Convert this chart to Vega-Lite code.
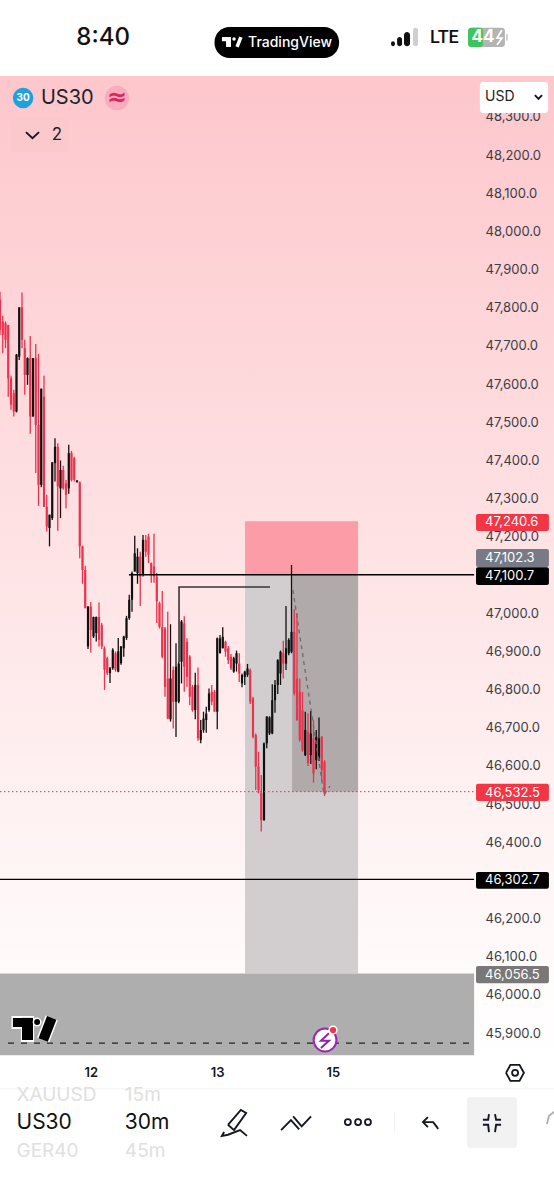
{"$schema":"https://vega.github.io/schema/vega-lite/v6.json","width":554,"height":1200,"padding":0,"autosize":{"type":"none"},"background":"#ffffff","view":{"stroke":null,"fill":{"gradient":"linear","x1":0,"y1":0,"x2":0,"y2":1,"stops":[{"offset":0,"color":"#ffffff"},{"offset":0.0633,"color":"#ffffff"},{"offset":0.0634,"color":"#fdc7cc"},{"offset":0.42,"color":"#fee0e2"},{"offset":0.81,"color":"#fffbfb"},{"offset":0.88,"color":"#ffffff"},{"offset":1,"color":"#ffffff"}]}},
"datasets":{"candles":[
{"bar":0,"high":47842,"low":47729,"open":47821,"close":47742,"dir":"down"},{"bar":1,"high":47779,"low":47681,"open":47764,"close":47729,"dir":"down"},{"bar":2,"high":47764,"low":47694,"open":47759,"close":47716,"dir":"down"},{"bar":3,"high":47755,"low":47567,"open":47755,"close":47615,"dir":"down"},{"bar":4,"high":47622,"low":47533,"open":47615,"close":47546,"dir":"down"},{"bar":5,"high":47585,"low":47515,"open":47576,"close":47528,"dir":"down"},{"bar":6,"high":47679,"low":47526,"open":47528,"close":47677,"dir":"up"},{"bar":7,"high":47801,"low":47663,"open":47672,"close":47801,"dir":"up"},{"bar":8,"high":47840,"low":47694,"open":47801,"close":47716,"dir":"down"},{"bar":9,"high":47716,"low":47572,"open":47694,"close":47624,"dir":"down"},{"bar":10,"high":47670,"low":47598,"open":47624,"close":47668,"dir":"up"},{"bar":11,"high":47726,"low":47470,"open":47668,"close":47515,"dir":"down"},{"bar":12,"high":47668,"low":47515,"open":47515,"close":47668,"dir":"up"},{"bar":13,"high":47705,"low":47367,"open":47668,"close":47493,"dir":"down"},{"bar":14,"high":47679,"low":47281,"open":47493,"close":47336,"dir":"down"},{"bar":15,"high":47588,"low":47330,"open":47336,"close":47588,"dir":"up"},{"bar":16,"high":47622,"low":47278,"open":47567,"close":47279,"dir":"down"},{"bar":17,"high":47310,"low":47214,"open":47279,"close":47227,"dir":"down"},{"bar":18,"high":47258,"low":47175,"open":47223,"close":47258,"dir":"up"},{"bar":19,"high":47395,"low":47244,"open":47249,"close":47395,"dir":"up"},
{"bar":20,"high":47458,"low":47345,"open":47393,"close":47436,"dir":"up"},{"bar":21,"high":47445,"low":47216,"open":47436,"close":47332,"dir":"down"},{"bar":22,"high":47400,"low":47249,"open":47327,"close":47375,"dir":"up"},{"bar":23,"high":47386,"low":47323,"open":47375,"close":47327,"dir":"down"},{"bar":24,"high":47349,"low":47275,"open":47340,"close":47310,"dir":"down"},{"bar":25,"high":47441,"low":47313,"open":47327,"close":47419,"dir":"up"},{"bar":26,"high":47425,"low":47345,"open":47419,"close":47349,"dir":"down"},{"bar":27,"high":47410,"low":47345,"open":47406,"close":47349,"dir":"down"},{"bar":28,"high":47349,"low":47342,"open":47343,"close":47347,"dir":"up"},{"bar":29,"high":47345,"low":47144,"open":47343,"close":47175,"dir":"down"},{"bar":30,"high":47177,"low":47077,"open":47175,"close":47113,"dir":"down"},{"bar":31,"high":47124,"low":47013,"open":47113,"close":47013,"dir":"down"},{"bar":32,"high":47019,"low":46906,"open":46913,"close":47017,"dir":"up"},{"bar":33,"high":47029,"low":46897,"open":47017,"close":46956,"dir":"down"},{"bar":34,"high":46991,"low":46935,"open":46939,"close":46990,"dir":"up"},{"bar":35,"high":46991,"low":46926,"open":46948,"close":46990,"dir":"up"},{"bar":36,"high":47028,"low":46913,"open":46990,"close":46930,"dir":"down"},{"bar":37,"high":46974,"low":46906,"open":46969,"close":46913,"dir":"down"},{"bar":38,"high":46913,"low":46799,"open":46908,"close":46852,"dir":"down"},{"bar":39,"high":46886,"low":46838,"open":46882,"close":46843,"dir":"down"},
{"bar":40,"high":46859,"low":46817,"open":46843,"close":46856,"dir":"up"},{"bar":41,"high":46908,"low":46852,"open":46856,"close":46904,"dir":"up"},{"bar":42,"high":46900,"low":46847,"open":46895,"close":46852,"dir":"down"},{"bar":43,"high":46935,"low":46845,"open":46847,"close":46900,"dir":"up"},{"bar":44,"high":46914,"low":46865,"open":46869,"close":46913,"dir":"up"},{"bar":45,"high":46941,"low":46886,"open":46908,"close":46939,"dir":"up"},{"bar":46,"high":46993,"low":46930,"open":46935,"close":46987,"dir":"up"},{"bar":47,"high":47048,"low":46983,"open":46987,"close":47035,"dir":"up"},{"bar":48,"high":47109,"low":47004,"open":47035,"close":47105,"dir":"up"},{"bar":49,"high":47203,"low":47109,"open":47109,"close":47157,"dir":"up"},{"bar":50,"high":47170,"low":47077,"open":47105,"close":47148,"dir":"up"},{"bar":51,"high":47161,"low":47019,"open":47148,"close":47096,"dir":"down"},{"bar":52,"high":47205,"low":47096,"open":47100,"close":47192,"dir":"up"},{"bar":53,"high":47205,"low":47148,"open":47192,"close":47161,"dir":"down"},{"bar":54,"high":47208,"low":47131,"open":47201,"close":47153,"dir":"down"},{"bar":55,"high":47133,"low":47080,"open":47131,"close":47100,"dir":"down"},{"bar":56,"high":47208,"low":47080,"open":47122,"close":47096,"dir":"down"},{"bar":57,"high":47105,"low":46974,"open":47096,"close":47031,"dir":"down"},{"bar":58,"high":47030,"low":46960,"open":47026,"close":46964,"dir":"down"},{"bar":59,"high":47058,"low":46882,"open":46964,"close":46886,"dir":"down"},
{"bar":60,"high":46964,"low":46781,"open":46960,"close":46807,"dir":"down"},{"bar":61,"high":47004,"low":46722,"open":46829,"close":46724,"dir":"down"},{"bar":62,"high":46971,"low":46716,"open":46722,"close":46829,"dir":"up"},{"bar":63,"high":46860,"low":46698,"open":46851,"close":46768,"dir":"down"},{"bar":64,"high":46921,"low":46676,"open":46768,"close":46860,"dir":"up"},{"bar":65,"high":46873,"low":46764,"open":46768,"close":46868,"dir":"up"},{"bar":66,"high":46982,"low":46816,"open":46873,"close":46978,"dir":"up"},{"bar":67,"high":46992,"low":46794,"open":46973,"close":46860,"dir":"down"},{"bar":68,"high":46934,"low":46807,"open":46925,"close":46833,"dir":"down"},{"bar":69,"high":46890,"low":46759,"open":46886,"close":46781,"dir":"down"},{"bar":70,"high":46812,"low":46742,"open":46807,"close":46746,"dir":"down"},{"bar":71,"high":46844,"low":46722,"open":46746,"close":46812,"dir":"up"},{"bar":72,"high":46858,"low":46666,"open":46812,"close":46672,"dir":"down"},{"bar":73,"high":46720,"low":46659,"open":46668,"close":46694,"dir":"up"},{"bar":74,"high":46742,"low":46687,"open":46694,"close":46724,"dir":"up"},{"bar":75,"high":46755,"low":46687,"open":46720,"close":46737,"dir":"up"},{"bar":76,"high":46803,"low":46742,"open":46746,"close":46790,"dir":"up"},{"bar":77,"high":46812,"low":46759,"open":46794,"close":46768,"dir":"down"},{"bar":78,"high":46799,"low":46742,"open":46794,"close":46742,"dir":"down"},{"bar":79,"high":46936,"low":46696,"open":46742,"close":46934,"dir":"up"},
{"bar":80,"high":46943,"low":46895,"open":46895,"close":46934,"dir":"up"},{"bar":81,"high":46963,"low":46908,"open":46908,"close":46938,"dir":"up"},{"bar":82,"high":46928,"low":46886,"open":46925,"close":46899,"dir":"down"},{"bar":83,"high":46914,"low":46867,"open":46908,"close":46877,"dir":"down"},{"bar":84,"high":46893,"low":46851,"open":46886,"close":46855,"dir":"down"},{"bar":85,"high":46886,"low":46844,"open":46847,"close":46882,"dir":"up"},{"bar":86,"high":46902,"low":46847,"open":46868,"close":46895,"dir":"up"},{"bar":87,"high":46895,"low":46820,"open":46868,"close":46842,"dir":"down"},{"bar":88,"high":46842,"low":46806,"open":46816,"close":46838,"dir":"up"},{"bar":89,"high":46849,"low":46812,"open":46833,"close":46847,"dir":"up"},{"bar":90,"high":46867,"low":46833,"open":46838,"close":46855,"dir":"up"},{"bar":91,"high":46855,"low":46762,"open":46851,"close":46768,"dir":"down"},{"bar":92,"high":46781,"low":46672,"open":46777,"close":46676,"dir":"down"},{"bar":93,"high":46685,"low":46537,"open":46681,"close":46598,"dir":"down"},{"bar":94,"high":46637,"low":46528,"open":46598,"close":46537,"dir":"down"},{"bar":95,"high":46576,"low":46428,"open":46528,"close":46458,"dir":"down"},{"bar":96,"high":46661,"low":46456,"open":46458,"close":46659,"dir":"up"},{"bar":97,"high":46730,"low":46646,"open":46659,"close":46729,"dir":"up"},{"bar":98,"high":46730,"low":46681,"open":46685,"close":46727,"dir":"up"},{"bar":99,"high":46814,"low":46683,"open":46685,"close":46772,"dir":"up"},
{"bar":100,"high":46825,"low":46739,"open":46772,"close":46812,"dir":"up"},{"bar":101,"high":46879,"low":46788,"open":46812,"close":46877,"dir":"up"},{"bar":102,"high":46902,"low":46812,"open":46842,"close":46899,"dir":"up"},{"bar":103,"high":46928,"low":46829,"open":46895,"close":46868,"dir":"down"},{"bar":104,"high":47019,"low":46851,"open":46868,"close":46908,"dir":"up"},{"bar":105,"high":46934,"low":46890,"open":46895,"close":46930,"dir":"up"},{"bar":106,"high":47126,"low":46895,"open":46899,"close":46951,"dir":"up"},{"bar":107,"high":47010,"low":46785,"open":46951,"close":46790,"dir":"down"},{"bar":108,"high":47000,"low":46718,"open":46829,"close":46720,"dir":"down"},{"bar":109,"high":46829,"low":46663,"open":46794,"close":46668,"dir":"down"},{"bar":110,"high":46794,"low":46637,"open":46746,"close":46641,"dir":"down"},{"bar":111,"high":46742,"low":46626,"open":46628,"close":46694,"dir":"up"},{"bar":112,"high":46737,"low":46600,"open":46689,"close":46607,"dir":"down"},{"bar":113,"high":46744,"low":46605,"open":46628,"close":46685,"dir":"up"},{"bar":114,"high":46720,"low":46556,"open":46672,"close":46580,"dir":"down"},{"bar":115,"high":46694,"low":46591,"open":46615,"close":46676,"dir":"up"},{"bar":116,"high":46727,"low":46613,"open":46620,"close":46672,"dir":"up"},{"bar":117,"high":46678,"low":46559,"open":46676,"close":46589,"dir":"down"},{"bar":118,"high":46615,"low":46521,"open":46611,"close":46528,"dir":"down"}
],
"icons":[
{"id":"chev","n":0,"bar":9.45,"price":48260},{"id":"chev","n":1,"bar":11.8,"price":48244},{"id":"chev","n":2,"bar":14.2,"price":48260},
{"id":"usd","n":0,"bar":194.5,"price":48357},{"id":"usd","n":1,"bar":195.8,"price":48347},{"id":"usd","n":2,"bar":197.1,"price":48357},
{"id":"hex","n":0,"bar":184,"price":45796},{"id":"hex","n":1,"bar":185.6,"price":45817},{"id":"hex","n":2,"bar":188.9,"price":45817},{"id":"hex","n":3,"bar":190.5,"price":45796},{"id":"hex","n":4,"bar":188.9,"price":45775},{"id":"hex","n":5,"bar":185.6,"price":45775},{"id":"hex","n":6,"bar":184,"price":45796},
{"id":"pen","n":0,"bar":82.9,"price":45660},{"id":"pen","n":1,"bar":87.6,"price":45699},{"id":"pen","n":2,"bar":89.5,"price":45691},{"id":"pen","n":3,"bar":85.1,"price":45646},{"id":"pen","n":4,"bar":82.9,"price":45660},
{"id":"sw","n":0,"bar":81.5,"price":45641},{"id":"sw","n":1,"bar":80.7,"price":45631},{"id":"sw","n":2,"bar":82.9,"price":45634},{"id":"sw","n":3,"bar":87.3,"price":45646},{"id":"sw","n":4,"bar":89.8,"price":45631},
{"id":"za","n":0,"bar":102.2,"price":45646},{"id":"za","n":1,"bar":105.8,"price":45672},{"id":"za","n":2,"bar":108.8,"price":45648},
{"id":"zb","n":0,"bar":106.6,"price":45682},{"id":"zb","n":1,"bar":109.7,"price":45656},{"id":"zb","n":2,"bar":113.1,"price":45682},
{"id":"ua","n":0,"bar":155.6,"price":45680},{"id":"ua","n":1,"bar":153.8,"price":45667},{"id":"ua","n":2,"bar":155.6,"price":45654},
{"id":"ub","n":0,"bar":153.8,"price":45667},{"id":"ub","n":1,"bar":157.5,"price":45667},{"id":"ub","n":2,"bar":158.9,"price":45654},{"id":"ub","n":3,"bar":159.3,"price":45649},
{"id":"c1","n":0,"bar":175.6,"price":45673},{"id":"c1","n":1,"bar":177.5,"price":45673},{"id":"c1","n":2,"bar":177.8,"price":45688},
{"id":"c2","n":0,"bar":182.2,"price":45673},{"id":"c2","n":1,"bar":180.4,"price":45673},{"id":"c2","n":2,"bar":180,"price":45688},
{"id":"c3","n":0,"bar":175.6,"price":45660},{"id":"c3","n":1,"bar":177.5,"price":45660},{"id":"c3","n":2,"bar":177.8,"price":45641},
{"id":"c4","n":0,"bar":182.2,"price":45660},{"id":"c4","n":1,"bar":180.4,"price":45660},{"id":"c4","n":2,"bar":180,"price":45641}
]},
"encoding":{
"x":{"field":"bar","type":"quantitative","scale":{"domain":[0,201.45],"nice":false,"zero":false},"axis":{"title":null,"orient":"bottom","values":[33,79,121],"labelExpr":"datum.value==33?'12':datum.value==79?'13':'15'","domain":false,"ticks":false,"grid":false,"offset":-128,"labelPadding":0,"labelFont":"Inter","labelFontSize":13,"labelFontWeight":600,"labelColor":"#131722","labelBaseline":"middle","labelFlush":false,"labelOverlap":false}},
"y":{"field":"price","type":"quantitative","scale":{"domain":[45463,48606],"nice":false,"zero":false},"axis":{"title":null,"orient":"right","values":[45900,46000,46100,46200,46400,46500,46600,46700,46800,46900,47000,47200,47300,47400,47500,47600,47700,47800,47900,48000,48100,48200,48300],"format":",.1f","domain":false,"ticks":false,"grid":false,"offset":-69,"labelPadding":0,"labelFont":"Inter","labelFontSize":13,"labelColor":"#3a3d46","labelAlign":"left","labelOverlap":false,"labelFlush":false}}
},
"resolve":{"scale":{"color":"independent"}},
"layer":[
{"data":{"values":[{"part":"target","bar":89.1,"bar2":130.2,"price":47240.6,"price2":47100.7},{"part":"range","bar":89.1,"bar2":130.2,"price":47100.7,"price2":46056.5},{"part":"filled","bar":106.2,"bar2":130.2,"price":47100.7,"price2":46532.5},{"part":"floor","bar":0,"bar2":172.4,"price":46056.5,"price2":45842}]},
"mark":{"type":"rect"},"encoding":{"x2":{"field":"bar2"},"y2":{"field":"price2"},"color":{"field":"part","type":"nominal","legend":null,"scale":{"domain":["target","range","filled","floor"],"range":["#fb9ca7","#d2cecf","#b1aaab","#aeaeae"]}}}},
{"data":{"name":"candles"},"mark":{"type":"rule","strokeWidth":1.3},"encoding":{"y":{"field":"high","type":"quantitative","scale":{"domain":[45463,48606],"nice":false,"zero":false},"axis":{"title":null,"orient":"right","values":[45900,46000,46100,46200,46400,46500,46600,46700,46800,46900,47000,47200,47300,47400,47500,47600,47700,47800,47900,48000,48100,48200,48300],"format":",.1f","domain":false,"ticks":false,"grid":false,"offset":-69,"labelPadding":0,"labelFont":"Inter","labelFontSize":13,"labelColor":"#3a3d46","labelAlign":"left","labelOverlap":false,"labelFlush":false}},"y2":{"field":"low"},"color":{"field":"dir","type":"nominal","legend":null,"scale":{"domain":["up","down"],"range":["#111111","#e8344e"]}}}},
{"data":{"name":"candles"},"mark":{"type":"rule","strokeWidth":2.2},"encoding":{"y":{"field":"open","type":"quantitative","scale":{"domain":[45463,48606],"nice":false,"zero":false},"axis":{"title":null,"orient":"right","values":[45900,46000,46100,46200,46400,46500,46600,46700,46800,46900,47000,47200,47300,47400,47500,47600,47700,47800,47900,48000,48100,48200,48300],"format":",.1f","domain":false,"ticks":false,"grid":false,"offset":-69,"labelPadding":0,"labelFont":"Inter","labelFontSize":13,"labelColor":"#3a3d46","labelAlign":"left","labelOverlap":false,"labelFlush":false}},"y2":{"field":"close"},"color":{"field":"dir","type":"nominal","legend":null,"scale":{"domain":["up","down"],"range":["#111111","#e8344e"]}}}},
{"data":{"values":[{"bar":46.9,"bar2":172.4,"price":47100.7},{"bar":0,"bar2":172.4,"price":46302.7}]},"mark":{"type":"rule","color":"#000000","strokeWidth":1.4},"encoding":{"x2":{"field":"bar2"}}},
{"data":{"values":[{"bar":0,"bar2":172.4,"price":46532.5}]},"mark":{"type":"rule","color":"#e8344e","strokeWidth":1,"strokeDash":[1.5,2.5]},"encoding":{"x2":{"field":"bar2"}}},
{"data":{"values":[{"bar":2.9,"bar2":170.9,"price":45874}]},"mark":{"type":"rule","color":"#222222","strokeWidth":1.3,"strokeDash":[6,7]},"encoding":{"x2":{"field":"bar2"}}},
{"data":{"values":[{"n":0,"bar":98.2,"price":47068.5},{"n":1,"bar":65.1,"price":47068.5},{"n":2,"bar":65.1,"price":46872}]},"mark":{"type":"line","color":"#3a3436","strokeWidth":1.6},"encoding":{"order":{"field":"n"}}},
{"data":{"values":[{"n":0,"bar":106.5,"price":47061},{"n":1,"bar":117.8,"price":46524},{"n":2,"bar":120,"price":46547}]},"mark":{"type":"line","color":"#6f6a70","strokeWidth":1.3,"strokeDash":[4,4]},"encoding":{"order":{"field":"n"}}},
{"data":{"values":[{"part":"red","bar":173.1,"bar2":199.6,"price":47260,"price2":47215},{"part":"slate","bar":173.1,"bar2":199.6,"price":47168,"price2":47121},{"part":"black","bar":173.1,"bar2":199.6,"price":47120,"price2":47074},{"part":"red","bar":173.1,"bar2":199.6,"price":46553,"price2":46508},{"part":"black","bar":173.1,"bar2":199.6,"price":46322,"price2":46278},{"part":"grey","bar":173.1,"bar2":199.6,"price":46076,"price2":46031}]},"mark":{"type":"rect","cornerRadius":2},"encoding":{"x2":{"field":"bar2"},"y2":{"field":"price2"},"color":{"field":"part","type":"nominal","legend":null,"scale":{"domain":["red","slate","black","grey"],"range":["#f23645","#787b86","#000000","#787878"]}}}},
{"data":{"values":[{"label":"47,240.6","bar":173.1,"price":47238},{"label":"47,102.3","bar":173.1,"price":47144},{"label":"47,100.7","bar":173.1,"price":47097},{"label":"46,532.5","bar":173.1,"price":46530},{"label":"46,302.7","bar":173.1,"price":46300},{"label":"46,056.5","bar":173.1,"price":46053}]},"mark":{"type":"text","align":"left","baseline":"middle","font":"Inter","fontSize":13,"color":"#ffffff","dx":9},"encoding":{"text":{"field":"label"}}},
{"data":{"values":[{"part":"pill","bar":78,"bar2":123.3,"price":48535,"price2":48454}]},"mark":{"type":"rect","cornerRadius":15,"color":"#000000"},"encoding":{"x2":{"field":"bar2"},"y2":{"field":"price2"}}},
{"data":{"values":[{"part":"on","bar":142.2,"bar2":143.6,"price":48498,"price2":48485},{"part":"on","bar":144.4,"bar2":146.2,"price":48509,"price2":48485},{"part":"on","bar":146.9,"bar2":149.1,"price":48522,"price2":48485},{"part":"off","bar":150.2,"bar2":152,"price":48533,"price2":48485},{"part":"batteryGrey","bar":170.2,"bar2":183.6,"price":48533,"price2":48483},{"part":"batteryGreen","bar":170.2,"bar2":175.6,"price":48533,"price2":48483},{"part":"off","bar":184,"bar2":184.7,"price":48517,"price2":48499},{"part":"white","bar":174.5,"bar2":199.3,"price":48391,"price2":48310},{"part":"menu","bar":3.9,"bar2":25.1,"price":48297,"price2":48208},{"part":"tool","bar":169.8,"bar2":188,"price":45733,"price2":45599},{"part":"sep","bar":0,"bar2":201.45,"price":45755,"price2":45753},{"part":"sep","bar":143.3,"bar2":143.6,"price":45695,"price2":45640}]},
"mark":{"type":"rect","cornerRadius":3},"encoding":{"x2":{"field":"bar2"},"y2":{"field":"price2"},"color":{"field":"part","type":"nominal","legend":null,"scale":{"domain":["on","off","batteryGrey","batteryGreen","white","menu","tool","sep"],"range":["#111111","#cfcfcf","#b4b4b4","#3ec45c","#ffffff","#fbc8cc","#f2f2f2","#efefef"]}}}},
{"data":{"values":[{"bar":8.4,"price":48349,"kind":"ticker"},{"bar":42.5,"price":48349,"kind":"status"}]},"mark":{"type":"point","filled":true,"opacity":1,"strokeWidth":0},"encoding":{"size":{"field":"kind","type":"nominal","legend":null,"scale":{"domain":["ticker","status"],"range":[420,600]}},"color":{"field":"kind","type":"nominal","legend":null,"scale":{"domain":["ticker","status"],"range":["#1ea1dc","#f7adbd"]}},"shape":{"value":"circle"}}},
{"data":{"values":[{"part":"white","bar":4.2,"bar2":12.4,"price":45945,"price2":45911},{"part":"white","bar":7.6,"bar2":12.4,"price":45945,"price2":45877},{"part":"black","bar":4.7,"bar2":12,"price":45940,"price2":45916},{"part":"black","bar":8,"bar2":12,"price":45940,"price2":45882}]},"mark":{"type":"rect"},"encoding":{"x2":{"field":"bar2"},"y2":{"field":"price2"},"color":{"field":"part","type":"nominal","legend":null,"scale":{"domain":["white","black"],"range":["#ffffff","#000000"]}}}},
{"data":{"values":[{"n":0,"bar":15.7,"price":45882},{"n":1,"bar":18.8,"price":45940}]},"mark":{"type":"line","color":"#ffffff","strokeWidth":13},"encoding":{"order":{"field":"n"}}},
{"data":{"values":[{"n":0,"bar":15.7,"price":45882},{"n":1,"bar":18.8,"price":45940}]},"mark":{"type":"line","color":"#000000","strokeWidth":10},"encoding":{"order":{"field":"n"}}},
{"data":{"values":[{"bar":13.5,"price":45929}]},"mark":{"type":"point","filled":true,"opacity":1,"color":"#000000","stroke":"#ffffff","strokeWidth":1.5,"size":55,"shape":"circle"}},
{"data":{"values":[{"bar":80.7,"bar2":84,"price":48509,"price2":48498},{"bar":82.2,"bar2":84,"price":48509,"price2":48483}]},"mark":{"type":"rect","color":"#ffffff"},"encoding":{"x2":{"field":"bar2"},"y2":{"field":"price2"}}},
{"data":{"values":[{"n":0,"bar":86.2,"price":48483},{"n":1,"bar":87.6,"price":48509}]},"mark":{"type":"line","color":"#ffffff","strokeWidth":3.5},"encoding":{"order":{"field":"n"}}},
{"data":{"values":[{"bar":85.1,"price":48504}]},"mark":{"type":"point","filled":true,"opacity":1,"color":"#ffffff","size":12,"shape":"circle"}},
{"data":{"values":[{"bar":118.2,"price":45882}]},"mark":{"type":"point","filled":true,"opacity":1,"fill":"#ffffff","stroke":"#9c27b0","strokeWidth":2,"size":520,"shape":"circle"}},
{"data":{"values":[{"n":0,"bar":119.6,"price":45900},{"n":1,"bar":116.7,"price":45880},{"n":2,"bar":119.6,"price":45880},{"n":3,"bar":116.7,"price":45861}]},"mark":{"type":"line","color":"#8e24aa","strokeWidth":2},"encoding":{"order":{"field":"n"}}},
{"data":{"values":[{"bar":121.1,"price":45908}]},"mark":{"type":"point","filled":true,"opacity":1,"fill":"#f23645","stroke":"#ffffff","strokeWidth":1.5,"size":60,"shape":"circle"}},
{"data":{"values":[{"n":0,"bar":182.5,"price":48527},{"n":1,"bar":180.7,"price":48506},{"n":2,"bar":182.5,"price":48506},{"n":3,"bar":180.7,"price":48488}]},"mark":{"type":"line","color":"#ffffff","strokeWidth":1.8},"encoding":{"order":{"field":"n"}}},
{"data":{"name":"icons"},"mark":{"type":"line","color":"#131722","strokeWidth":1.9},"encoding":{"order":{"field":"n"},"detail":{"field":"id"}}},
{"data":{"values":[{"n":0,"bar":201.5,"price":45694},{"n":1,"bar":199.6,"price":45683},{"n":2,"bar":198.9,"price":45662}]},"mark":{"type":"line","color":"#b0b0b0","strokeWidth":1.8},"encoding":{"order":{"field":"n"}}},
{"data":{"values":[{"bar":126.5,"price":45667},{"bar":130.2,"price":45667},{"bar":133.8,"price":45667},{"bar":187.3,"price":45796}]},"mark":{"type":"point","filled":false,"opacity":1,"color":"#131722","strokeWidth":1.8,"size":36,"shape":"circle"}},
{"data":{"values":[{"bar":37.5,"price":48506,"label":"8:40"}]},"mark":{"type":"text","align":"center","baseline":"middle","font":"Inter","fontSize":24,"fontWeight":500,"color":"#111111"},"encoding":{"text":{"field":"label"}}},
{"data":{"values":[{"bar":90.2,"price":48493,"label":"TradingView"}]},"mark":{"type":"text","align":"left","baseline":"middle","font":"Inter","fontSize":14,"fontWeight":500,"color":"#ffffff"},"encoding":{"text":{"field":"label"}}},
{"data":{"values":[{"bar":156.4,"price":48506,"label":"LTE"}]},"mark":{"type":"text","align":"left","baseline":"middle","font":"Roboto","fontSize":18,"fontWeight":500,"color":"#111111"},"encoding":{"text":{"field":"label"}}},
{"data":{"values":[{"bar":175.6,"price":48508,"label":"44"}]},"mark":{"type":"text","align":"center","baseline":"middle","font":"Inter","fontSize":17,"fontWeight":700,"color":"#ffffff"},"encoding":{"text":{"field":"label"}}},
{"data":{"values":[{"bar":14.9,"price":48349,"label":"US30"}]},"mark":{"type":"text","align":"left","baseline":"middle","font":"Inter","fontSize":20,"color":"#222222"},"encoding":{"text":{"field":"label"}}},
{"data":{"values":[{"bar":8.4,"price":48349,"label":"30"}]},"mark":{"type":"text","align":"center","baseline":"middle","font":"Inter","fontSize":10,"fontWeight":700,"color":"#ffffff"},"encoding":{"text":{"field":"label"}}},
{"data":{"values":[{"bar":42.5,"price":48349,"label":"≈"}]},"mark":{"type":"text","align":"center","baseline":"middle","font":"DejaVu Sans","fontSize":24,"fontWeight":700,"color":"#e0245e"},"encoding":{"text":{"field":"label"}}},
{"data":{"values":[{"bar":20.7,"price":48252,"label":"2"}]},"mark":{"type":"text","align":"center","baseline":"middle","font":"Inter","fontSize":17,"color":"#222222"},"encoding":{"text":{"field":"label"}}},
{"data":{"values":[{"bar":176.4,"price":48352,"label":"USD"}]},"mark":{"type":"text","align":"left","baseline":"middle","font":"Inter","fontSize":14,"color":"#222222"},"encoding":{"text":{"field":"label"}}},
{"data":{"values":[{"bar":6,"price":45665,"label":"US30"},{"bar":45.4,"price":45665,"label":"30m"}]},"mark":{"type":"text","align":"left","baseline":"middle","font":"Inter","fontSize":21,"color":"#111111"},"encoding":{"text":{"field":"label"}}},
{"data":{"values":[{"bar":6,"price":45738,"label":"XAUUSD"},{"bar":45.4,"price":45738,"label":"15m"},{"bar":6,"price":45591,"label":"GER40"},{"bar":45.4,"price":45591,"label":"45m"}]},"mark":{"type":"text","align":"left","baseline":"middle","font":"Inter","fontSize":19,"color":"#e0e0e0"},"encoding":{"text":{"field":"label"}}}
]}
